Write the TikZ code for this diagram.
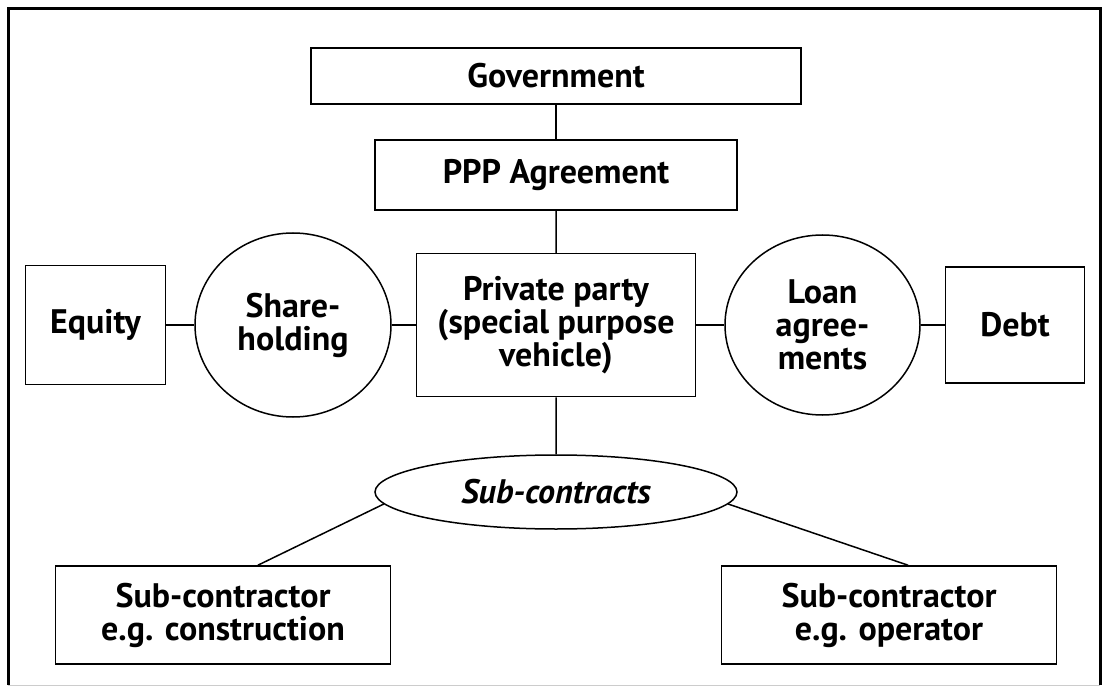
\documentclass[tikz,border=0pt]{standalone}
\usepackage{fontspec}
\setmainfont{PT Sans}
\usepackage{tikz}
\usetikzlibrary{trees,positioning,shapes.geometric}

\begin{document}
\begin{tikzpicture}[x=1pt, y=-1pt, grow=down,
    every node/.style={draw, line width=1.5pt, align=center,
        font=\fontsize{34}{33}\selectfont\bfseries},
    box/.style={rectangle, inner sep=2pt},
    oval/.style={ellipse, inner sep=0pt},
    edge from parent/.style={line width=1.5pt, draw},
 level 1/.style={level distance=99pt},
 level 2/.style={level distance=150pt},
 level 3/.style={level distance=167pt},
 level 4/.style={level distance=123pt, sibling distance=666pt}
 ]
\useasboundingbox (0,0) rectangle (1103,687);

\node [box, minimum width=490pt, minimum height=56pt] (gov) at (556,76) {Government}
    child {node [box, minimum width=362pt, minimum height=70pt] (ppp) {PPP Agreement}
        child {node [box, minimum width=279pt, minimum height=143pt] (spv)
                {Private party\\(special purpose\\vehicle)}
            child {node [oval, minimum width=362pt, minimum height=74pt] (sub)
                    {\itshape Sub-contracts}
                child [parent anchor=184, child anchor=55]
                    {node [box, minimum width=335pt, minimum height=98pt] (con)
                        {Sub-contractor\\e.g. construction}}
                child [parent anchor=356, child anchor=69]
                    {node [box, minimum width=335pt, minimum height=98pt] (opr)
                        {Sub-contractor\\e.g. operator}}
                  }
              }
      };

% financing on both sides
\node [oval, minimum width=196pt, minimum height=184pt, left=24pt of spv] (share) {Share-\\holding};
\node [box, minimum width=140pt, minimum height=119pt, left=28pt of share] (eq) {Equity};
\node [oval, minimum width=195pt, minimum height=180pt, right=28pt of spv] (loan) {Loan\\agree-\\ments};
\node [box, minimum width=139pt, minimum height=116pt, right=24pt of loan] (debt) {Debt};

\draw [line width=1.5pt] (eq) -- (share);
\draw [line width=1.5pt] (share) -- (spv);
\draw [line width=1.5pt] (spv) -- (loan);
\draw [line width=1.5pt] (loan) -- (debt);

% frame
\draw [line width=3pt] (8,685) |- (1100,9) -- (1100,685);
\draw [gray!40] (8,685) -- (1100,685);
\end{tikzpicture}
\end{document}
